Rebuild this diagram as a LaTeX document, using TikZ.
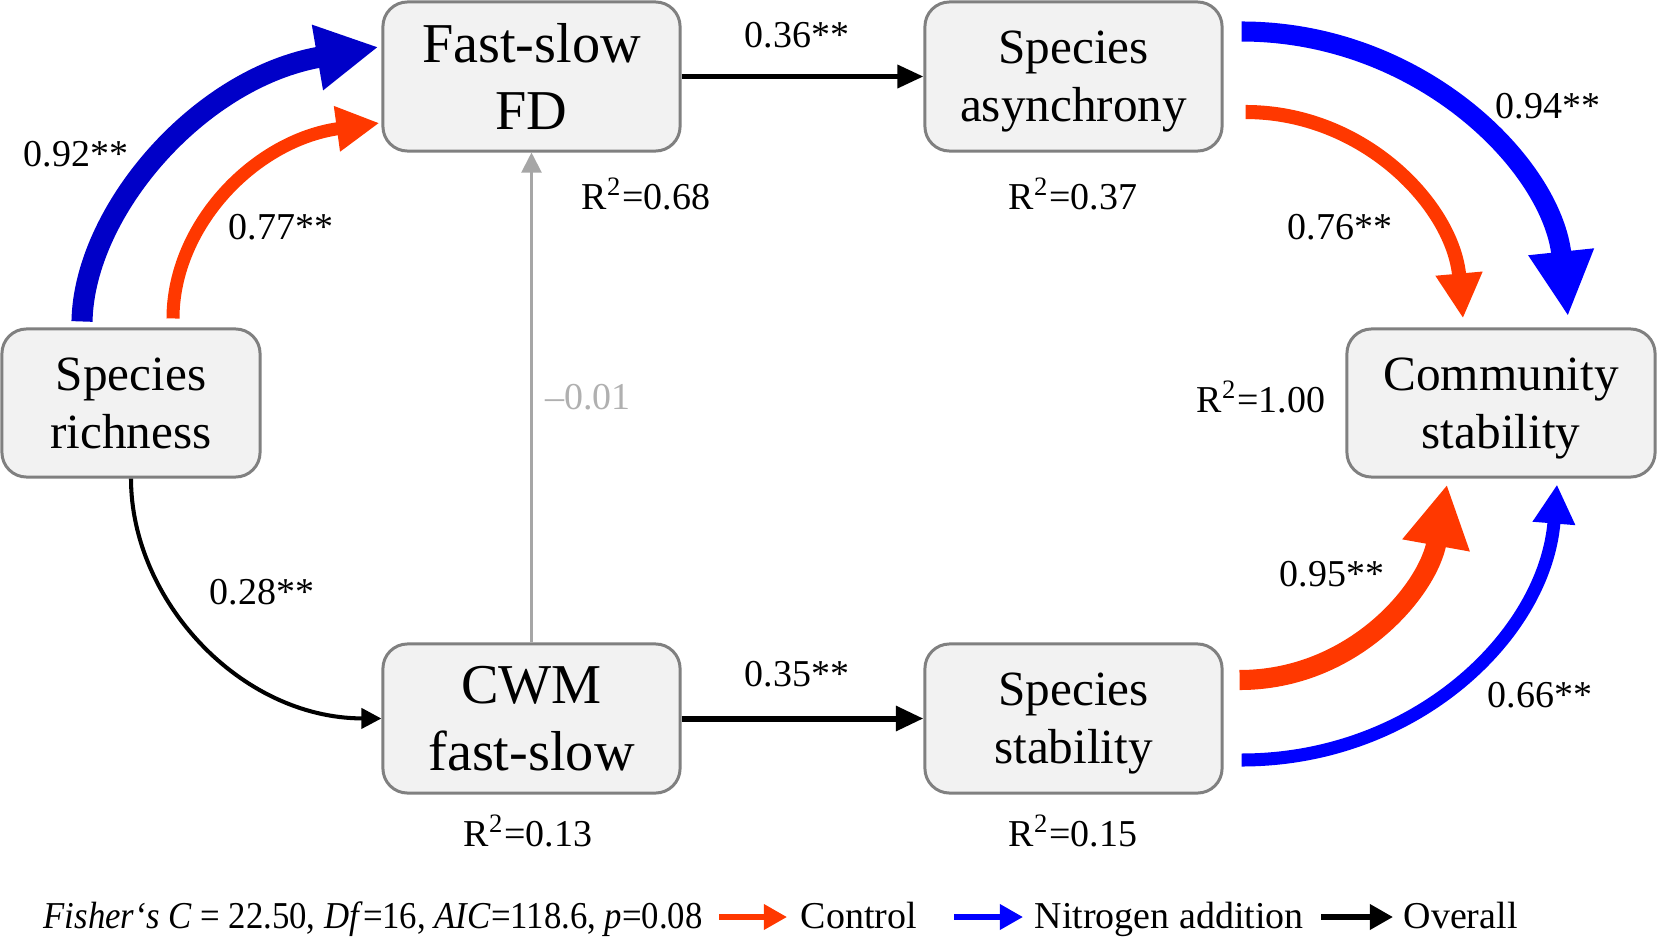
\documentclass[tikz,border=0pt]{standalone}
\usepackage{fontspec}
\usepackage{graphicx}
\setmainfont{Liberation Serif}
\usetikzlibrary{arrows.meta,calc}
\definecolor{redC}{RGB}{255,56,0}
\definecolor{blueD}{RGB}{0,0,200}
\definecolor{blueC}{RGB}{0,0,255}
\definecolor{boxfill}{RGB}{242,242,242}
\definecolor{boxdraw}{RGB}{128,128,128}
\definecolor{grayline}{RGB}{166,166,166}
\definecolor{graytext}{RGB}{176,176,176}
\begin{document}
\begin{tikzpicture}[x=0.01cm,y=-0.01cm,
  var/.style={draw=boxdraw, fill=boxfill, line width=0.85pt, rounded corners=7pt,
    minimum width=2.97cm, minimum height=1.49cm, inner sep=0pt, align=center,
    text depth=0pt, font=\fontsize{14}{16.5}\selectfont},
  bigvar/.style={var, font=\fontsize{16}{19}\selectfont},
  lab/.style={font=\fontsize{10.8}{12}\selectfont, inner sep=0pt},
  blk/.style={draw=black, line width=1.45pt, -{Triangle[length=7.4pt,width=6.4pt]}},
  leg/.style={line width=1.5pt, -{Triangle[length=6.6pt,width=7pt]}}
]
\useasboundingbox (0,0) rectangle (1657,942);

% nodes
\node[bigvar] (fd)    at (531.5,76.5)  {Fast-slow\\FD};
\node[var] (asyn)  at (1073.5,76.5) {Species\\asynchrony};
\node[var, minimum width=2.58cm, minimum height=1.48cm] (rich) at (131,403) {Species\\richness};
\node[var, minimum width=3.08cm, minimum height=1.48cm] (comm) at (1501,403) {Community\\stability};
\node[bigvar] (cwm)   at (531.5,718.5) {CWM\\fast-slow};
\node[var] (sstab) at (1073.5,718.5) {Species\\stability};

% black / gray connectors
\draw[blk] (fd.east) -- (asyn.west);
\draw[blk, line width=1.7pt, -{Triangle[length=7.8pt,width=6.8pt]}] (cwm.east) -- (sstab.west);
\draw[grayline, line width=0.6pt, -{Triangle[length=5.7pt,width=5.7pt]}] (cwm.north) -- (fd.south);
\draw[black, line width=1.15pt, -{Triangle[length=5.7pt,width=5.7pt]}]
  (rich.south) .. controls (131,600) and (240,718) .. (cwm.west);

% richness -> FD
\draw[blueD, line width=6pt, -{Triangle[length=17.6pt,width=17.6pt]}]
  ($(rich.north)+(-49,-6)$) .. controls (84,212) and (198,78) .. ($(fd.west)+(-3,-29.5)$);
\draw[redC, line width=3.7pt, -{Triangle[length=12.2pt,width=12.2pt]}]
  ($(rich.north)+(42,-9)$) .. controls (173,225) and (255,140) .. ($(fd.west)+(-2,46.5)$);

% asynchrony -> community
\draw[blueC, line width=5.7pt, -{Triangle[length=18.5pt,width=17.4pt]}]
  ($(asyn.east)+(18,-45)$) .. controls (1420,31.5) and (1552,165) .. ($(comm.north)+(67,-11)$);
\draw[redC, line width=4pt, -{Triangle[length=12.8pt,width=12.5pt]}]
  ($(asyn.east)+(22,35.5)$) .. controls (1364,112) and (1453,206) .. ($(comm.north)+(-38,-9)$);

% species stability -> community
\draw[redC, line width=5.7pt, -{Triangle[length=17.6pt,width=18.2pt]}]
  ($(sstab.east)+(16,-38.5)$) .. controls (1353,680) and (1428,590) .. ($(comm.south)+(-54,6)$);
\draw[blueC, line width=3.7pt, -{Triangle[length=11.1pt,width=11.4pt]}]
  ($(sstab.east)+(18,41.5)$) .. controls (1415,760) and (1545,635) .. ($(comm.south)+(56,6)$);

% path coefficients
\node[lab] (l092) at (76,154) {0.92**};
\node[lab] (l077) at (281,227) {0.77**};
\node[lab] (l036) at (797,35) {0.36**};
\node[lab] (l094) at (1548,106) {0.94**};
\node[lab] (l076) at (1340,227) {0.76**};
\node[lab, text=graytext] (l001) at (588,397) {\textendash0.01};
\node[lab] (l028) at (262,592) {0.28**};
\node[lab] (l035) at (797,674) {0.35**};
\node[lab] (l095) at (1332,574) {0.95**};
\node[lab] (l066) at (1540,695) {0.66**};

% R2
\node[lab] (r068) at (646,194) {R\textsuperscript{2}=0.68};
\node[lab] (r037) at (1073,194) {R\textsuperscript{2}=0.37};
\node[lab] (r100) at (1261,397) {R\textsuperscript{2}=1.00};
\node[lab] (r013) at (528,831) {R\textsuperscript{2}=0.13};
\node[lab] (r015) at (1073,831) {R\textsuperscript{2}=0.15};

% footer / legend
\node[lab, anchor=base west] (fit) at (43,928)
  {\scalebox{0.915}[1]{\textit{Fisher‘s C} = 22.50, \textit{Df}=16, \textit{AIC}=118.6, \textit{p}=0.08}};
\coordinate (lr1) at (719,917); \coordinate (lr2) at (787,917);
\draw[leg, redC] (lr1) -- (lr2);
\node[lab, anchor=base west] (lctrl) at (800,928) {Control};
\coordinate (lb1) at (954,917); \coordinate (lb2) at (1023,917);
\draw[leg, blueC] (lb1) -- (lb2);
\node[lab, anchor=base west] (lnit) at (1034,928) {Nitrogen addition};
\coordinate (lk1) at (1321,917); \coordinate (lk2) at (1393,917);
\draw[leg, black] (lk1) -- (lk2);
\node[lab, anchor=base west] (lall) at (1403,928) {Overall};
\end{tikzpicture}
\end{document}
